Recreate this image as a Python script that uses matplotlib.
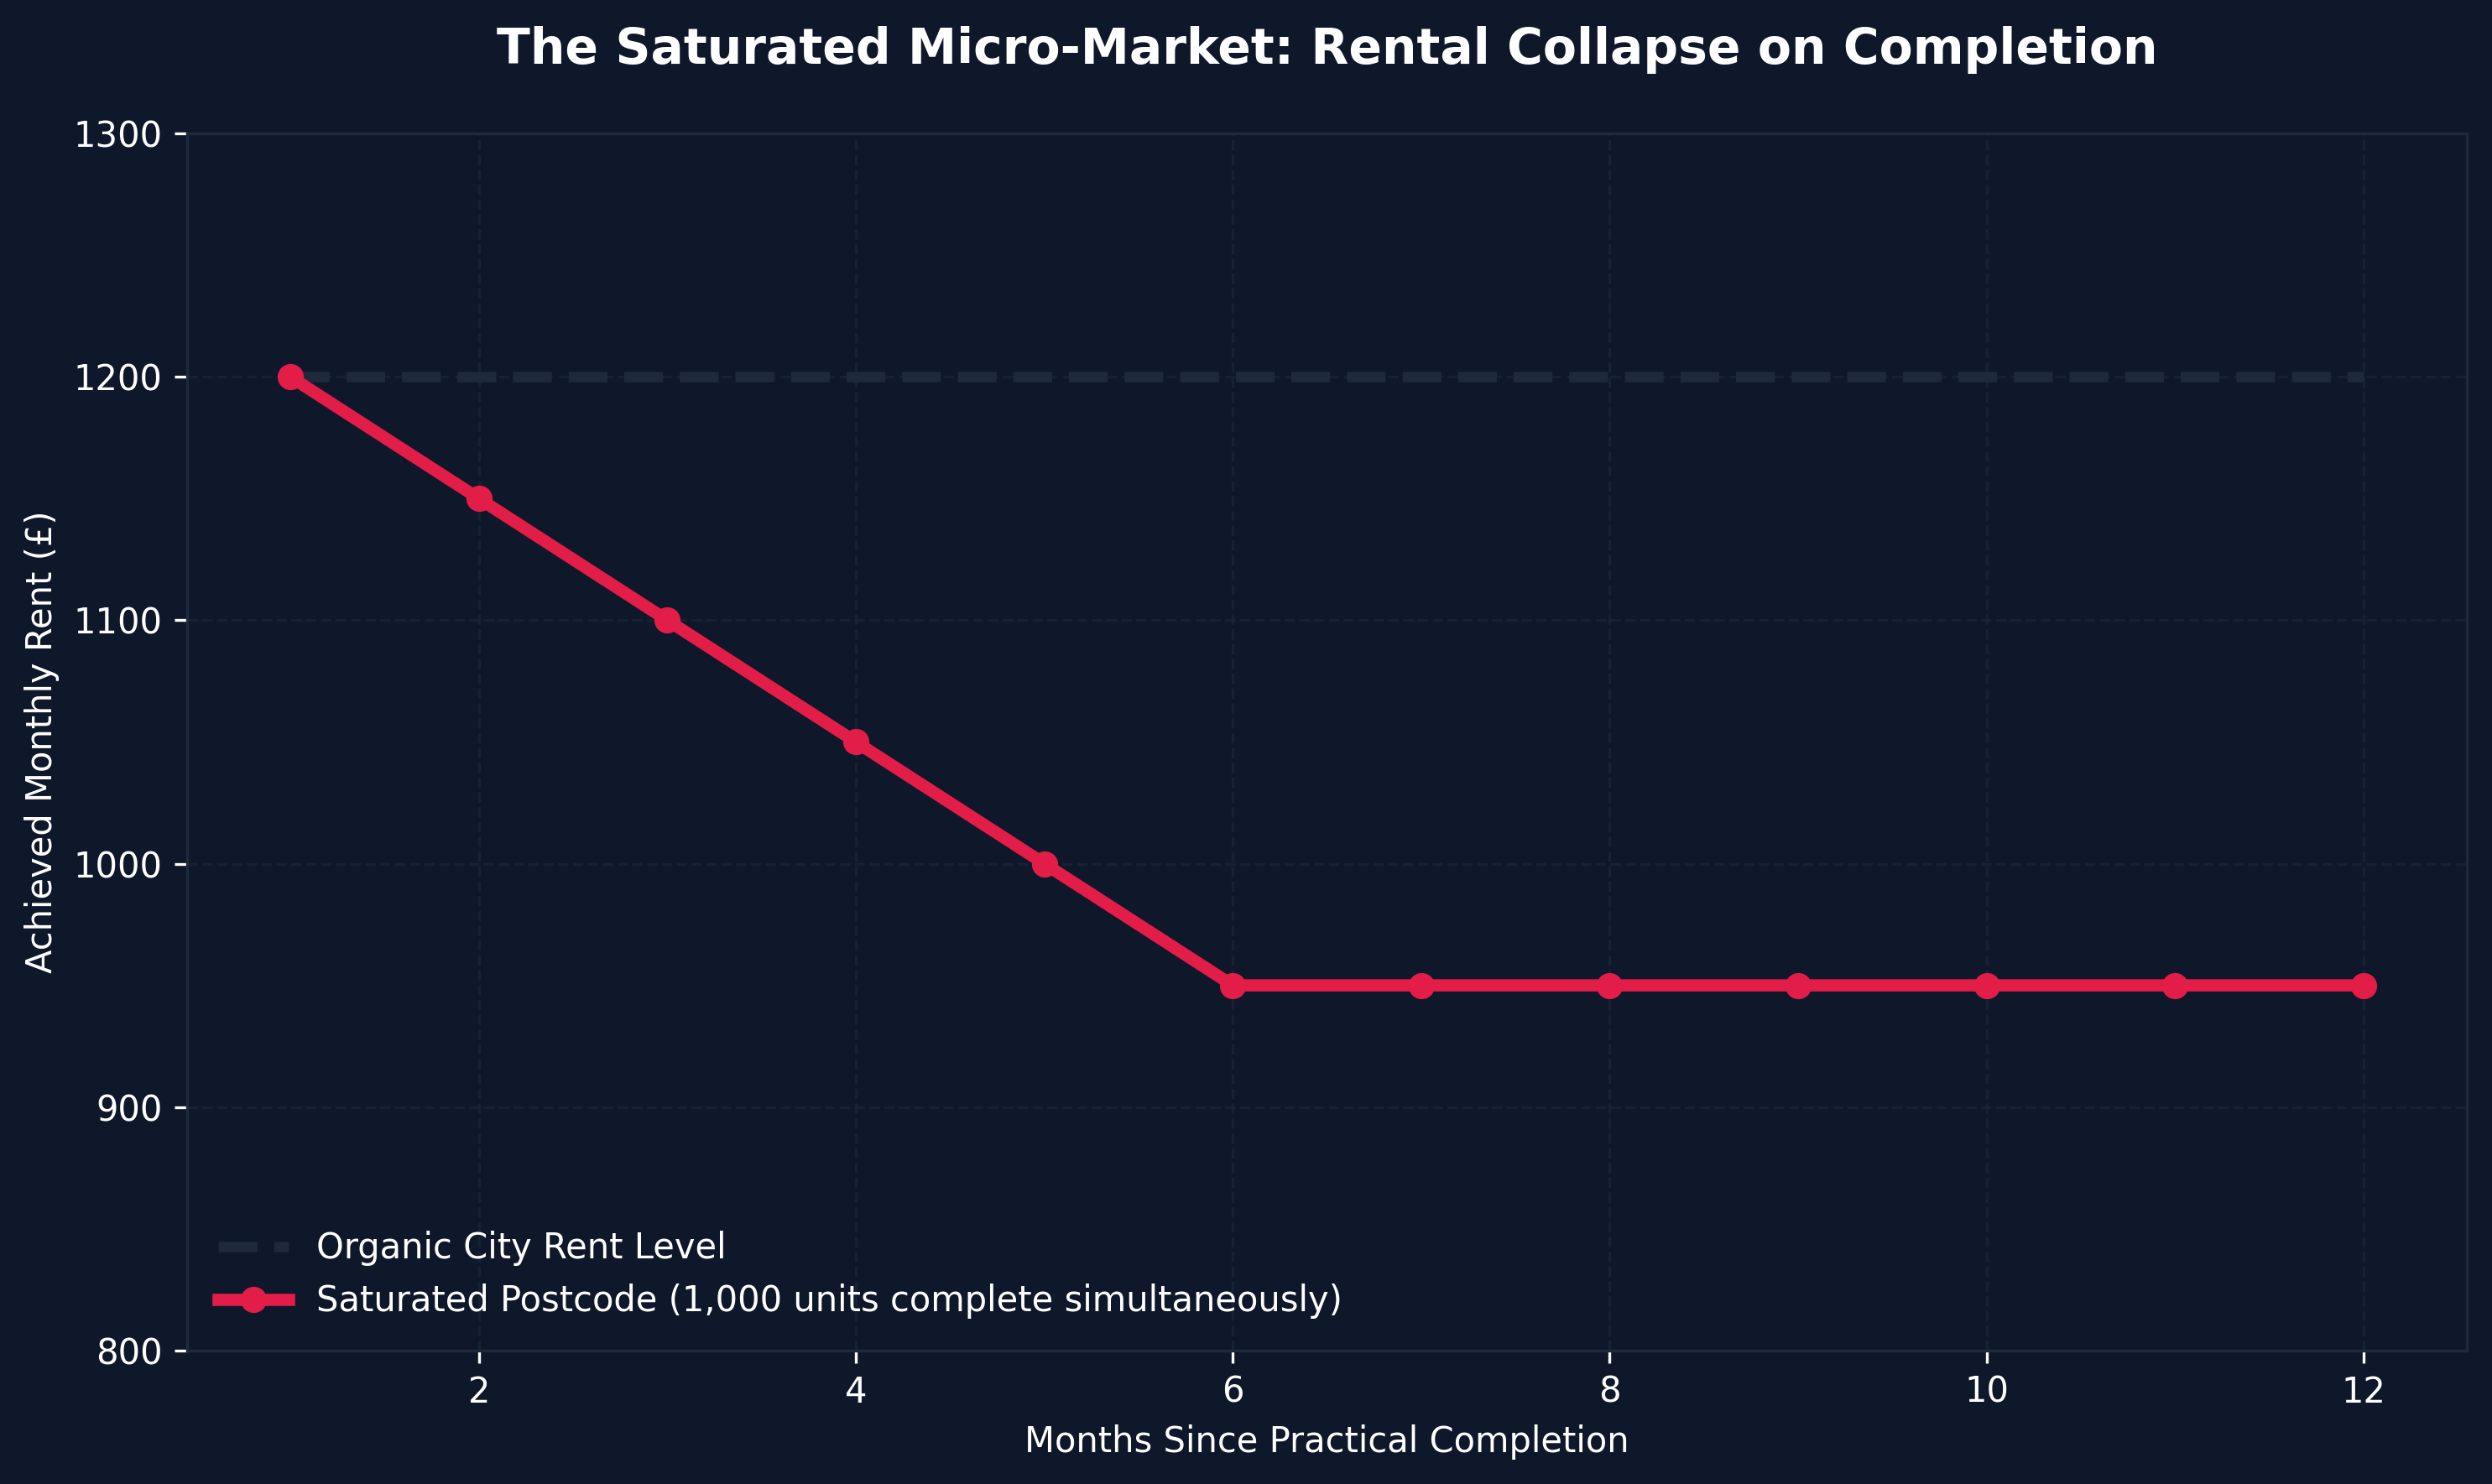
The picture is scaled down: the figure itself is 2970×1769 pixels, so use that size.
import matplotlib
matplotlib.use('Agg')
import matplotlib.pyplot as plt

months = [1, 2, 3, 4, 5, 6, 7, 8, 9, 10, 11, 12]
saturated_rent = [1200, 1150, 1100, 1050, 1000, 950, 950, 950, 950, 950, 950, 950]
organic_rent = [1200] * 12

bg = '#0f172a'
grid_c = '#1e293b'
red = '#e11d48'

fig, ax = plt.subplots(figsize=(9.9, 5.8967), dpi=300)
fig.patch.set_facecolor(bg)
ax.set_facecolor(bg)

ax.plot(months, organic_rent, linestyle='--', color=grid_c, linewidth=3,
        label='Organic City Rent Level')
ax.plot(months, saturated_rent, color=red, linewidth=3.5, marker='o', markersize=6.5,
        label='Saturated Postcode (1,000 units complete simultaneously)')

ax.set_ylim(800, 1300)
ax.set_title('The Saturated Micro-Market: Rental Collapse on Completion',
             fontsize=14, fontweight='bold', color='white', pad=20)
ax.set_xlabel('Months Since Practical Completion', fontsize=10, color='white')
ax.set_ylabel('Achieved Monthly Rent (£)', fontsize=10, color='white')
ax.tick_params(colors='white', labelsize=10)
for s in ax.spines.values():
    s.set_color(grid_c)
ax.grid(True, linestyle='--', color=grid_c, alpha=0.6, linewidth=0.8)

leg = ax.legend(loc='lower left', frameon=False, fontsize=10)
for t in leg.get_texts():
    t.set_color('white')

plt.subplots_adjust(left=0.075, right=0.99, top=0.91, bottom=0.09)
fig.savefig('out.png', dpi=300, facecolor=bg)
